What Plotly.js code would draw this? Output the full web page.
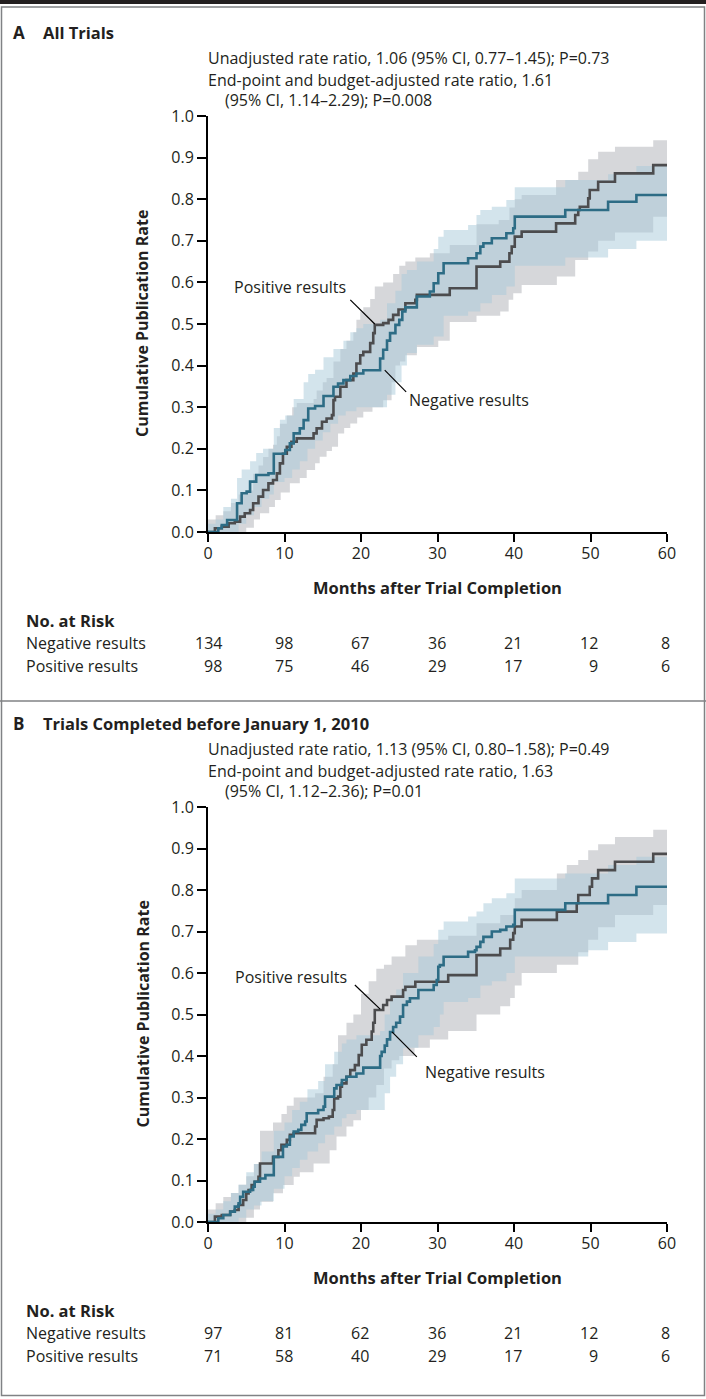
<!DOCTYPE html>
<html><head><meta charset="utf-8">
<script src="https://cdn.plot.ly/plotly-3.0.1.min.js"></script>
<style>html,body{margin:0;padding:0;background:#fff}#chart{width:706px;height:1399px}</style>
</head><body><div id="chart"></div>
<script>
// ---------- data ----------
const monthTicks = [0, 10, 20, 30, 40, 50, 60];
const rateTicks = [0, 0.1, 0.2, 0.3, 0.4, 0.5, 0.6, 0.7, 0.8, 0.9, 1.0];
const rateTickText = ['0.0','0.1','0.2','0.3','0.4','0.5','0.6','0.7','0.8','0.9','1.0'];

// Panel A: All Trials
const negA_t = [0,1.35,1.8,2.5,3.8,4.4,5.05,5.5,6.3,7.9,8.6,10.1,10.7,11.2,12.0,12.5,13.1,14.0,15.1,16.4,17.0,17.7,18.6,19.4,20.3,22.5,22.9,23.4,23.8,24.5,25.0,25.4,25.8,27.3,29.0,29.5,30.1,30.8,34.0,35.1,35.6,36.0,37.1,39.0,39.9,40.1,46.7,52.3,56.0,60];
const negA_v = [0,0.009,0.017,0.029,0.069,0.093,0.097,0.121,0.137,0.141,0.188,0.197,0.213,0.237,0.249,0.269,0.297,0.303,0.327,0.349,0.357,0.365,0.375,0.381,0.389,0.417,0.438,0.46,0.478,0.498,0.51,0.53,0.54,0.566,0.578,0.598,0.622,0.646,0.658,0.67,0.686,0.694,0.706,0.718,0.73,0.758,0.774,0.794,0.81,0.81];
const posA_t = [0,0.9,1.8,2.7,3.5,4.2,4.8,5.5,5.9,6.6,7.2,7.9,8.5,9.0,9.4,9.8,10.3,10.9,11.6,13.8,14.2,14.9,15.5,16.2,16.4,16.6,17.3,18.1,19.0,19.4,19.9,20.3,21.2,21.6,21.8,22.9,23.6,24.2,24.9,25.8,27.1,27.3,31.6,35.1,38.2,39.4,39.7,40.1,41.0,45.5,48.0,48.4,48.6,49.7,49.9,51.0,53.2,58.2,60];
const posA_v = [0,0.009,0.013,0.021,0.025,0.037,0.045,0.053,0.069,0.085,0.101,0.117,0.125,0.141,0.165,0.188,0.205,0.217,0.225,0.237,0.249,0.265,0.273,0.281,0.317,0.325,0.349,0.365,0.381,0.405,0.425,0.433,0.454,0.478,0.498,0.502,0.51,0.522,0.535,0.55,0.558,0.57,0.586,0.638,0.65,0.67,0.686,0.71,0.722,0.742,0.762,0.774,0.782,0.802,0.822,0.842,0.862,0.882,0.882];

const negA_upT = [0,1,2,3,3.8,4.4,5.5,6.3,7.2,8.6,9.4,10.1,11.2,12.5,13.1,14.0,15.1,16.4,17.7,18.6,19.4,20.3,22.5,23.4,24.5,25.3,26.0,27.3,29.5,30.1,30.8,34.0,35.1,35.6,37.1,39.0,40.1,46.7,52.3,56.0,60];
const negA_upV = [0.02,0.03,0.06,0.08,0.13,0.15,0.17,0.19,0.2,0.25,0.27,0.28,0.32,0.36,0.38,0.39,0.42,0.44,0.46,0.48,0.49,0.5,0.51,0.55,0.58,0.62,0.63,0.65,0.68,0.71,0.726,0.738,0.762,0.774,0.782,0.798,0.829,0.846,0.86,0.88,0.88];
const negA_loT = [0,3,4,5,6,7,8,8.6,10,11,12,13,14,15,16,17,18,19.4,22.5,23.4,24.5,25.3,26.0,27.3,29.5,30.8,34.0,35.6,37.1,39.0,40.1,46.7,52.3,56.0,60];
const negA_loV = [0,0,0.02,0.04,0.06,0.08,0.09,0.12,0.13,0.15,0.17,0.2,0.22,0.24,0.26,0.28,0.29,0.3,0.3,0.33,0.36,0.4,0.43,0.45,0.47,0.52,0.53,0.55,0.57,0.59,0.64,0.66,0.68,0.7,0.7];
const posA_upT = [0,1,2,3,4,5,5.9,6.6,7.2,7.9,8.5,9.0,9.4,10.3,11.0,11.6,13.8,14.2,15.0,15.5,16.4,17.3,18.1,19.0,19.4,19.9,20.3,21.2,21.8,22.9,24.2,25.0,25.8,27.1,29.0,31.6,35.1,38.0,39.4,40.1,41.0,45.5,48.4,49.7,51.0,53.2,58.2,60];
const posA_upV = [0.03,0.04,0.05,0.07,0.09,0.1,0.14,0.16,0.18,0.2,0.21,0.23,0.26,0.28,0.3,0.31,0.32,0.34,0.36,0.37,0.41,0.44,0.46,0.48,0.51,0.53,0.54,0.56,0.59,0.6,0.62,0.64,0.65,0.66,0.67,0.69,0.74,0.75,0.78,0.8,0.81,0.846,0.866,0.896,0.914,0.926,0.942,0.942];
const posA_loT = [0,4,5,6,6.8,8,8.75,9.5,10.7,12,12.9,14,14.6,15.5,16.2,17,17.8,18.6,19.5,20.3,21.5,22.9,24,24.5,25.1,25.8,27.3,30.1,31.6,35.1,38.2,39.3,39.9,41,45.6,48,49.7,51,53.2,58.2,60];
const posA_loV = [0,0,0.01,0.03,0.045,0.06,0.077,0.095,0.117,0.13,0.149,0.165,0.181,0.195,0.205,0.237,0.25,0.261,0.275,0.289,0.3,0.317,0.36,0.4,0.41,0.425,0.445,0.46,0.505,0.52,0.53,0.558,0.574,0.594,0.614,0.654,0.674,0.7,0.72,0.758,0.758];

// Panel B: Trials completed before January 1, 2010
const negB_t = [0,1.35,2.0,2.9,3.5,4.0,4.2,4.6,5.5,5.9,6.1,6.8,7.5,8.6,9.8,10.3,10.7,11.2,11.8,12.2,12.7,12.9,14.4,15.1,15.3,16.5,16.8,17.5,18.1,19.4,20.3,22.5,22.7,23.1,23.4,23.8,24.2,24.6,25.1,25.5,26.0,26.4,27.5,29.5,29.9,30.1,30.3,30.8,34.0,34.9,35.1,35.6,36.0,37.1,38.2,39.0,39.9,40.1,46.7,52.3,56.0,60];
const negB_v = [0,0.009,0.017,0.025,0.037,0.045,0.061,0.073,0.077,0.085,0.097,0.105,0.113,0.157,0.182,0.186,0.206,0.218,0.222,0.234,0.242,0.262,0.27,0.278,0.302,0.322,0.33,0.342,0.35,0.358,0.372,0.40,0.41,0.425,0.44,0.458,0.47,0.48,0.495,0.523,0.531,0.539,0.559,0.571,0.583,0.615,0.619,0.639,0.651,0.655,0.663,0.675,0.687,0.70,0.704,0.712,0.716,0.752,0.768,0.788,0.808,0.808];
const posB_t = [0,0.9,1.8,2.9,3.5,4.0,4.6,5.0,5.3,5.7,6.1,6.6,6.8,8.5,9.2,9.6,10.3,10.7,11.2,14.0,14.2,15.1,15.8,16.3,16.5,17.0,17.3,17.5,18.1,18.6,19.2,19.7,20.1,20.7,21.4,21.6,21.8,22.9,23.4,24.0,25.5,25.8,27.1,31.4,35.1,38.2,39.5,39.9,40.1,41.0,45.6,48.2,48.4,49.9,50.2,51.0,53.2,58.2,60];
const posB_v = [0,0.013,0.017,0.025,0.029,0.041,0.053,0.069,0.077,0.089,0.097,0.109,0.141,0.157,0.173,0.186,0.198,0.21,0.214,0.23,0.246,0.25,0.254,0.27,0.298,0.302,0.326,0.334,0.35,0.366,0.378,0.402,0.427,0.439,0.459,0.48,0.511,0.523,0.535,0.543,0.559,0.567,0.579,0.595,0.643,0.659,0.68,0.696,0.712,0.728,0.748,0.768,0.788,0.808,0.828,0.848,0.868,0.887,0.887];

const negB_upT = [0,1,2,3,4,5,6,7,8.6,10,11,12,13,14.4,15.3,16.5,17.5,18.1,19.4,22.5,23.1,23.8,24.6,25.5,27.5,29.5,30.1,30.8,34.0,35.1,36.0,37.1,39.0,40.1,46.7,52.3,56.0,60];
const negB_upV = [0.02,0.03,0.05,0.07,0.09,0.12,0.14,0.17,0.22,0.24,0.27,0.29,0.32,0.34,0.38,0.41,0.43,0.44,0.45,0.46,0.5,0.54,0.56,0.6,0.64,0.67,0.704,0.724,0.736,0.748,0.768,0.78,0.792,0.828,0.84,0.86,0.88,0.88];
const negB_loT = [0,3,4,5,6,7,8.6,10,11,12,13,14.4,15.3,16.5,17.5,18.1,19.4,22.5,23.1,23.8,24.6,25.5,27.5,29.5,30.3,30.8,34.0,35.6,37.1,39.0,40.1,46.7,49.7,52.3,56.0,60];
const negB_loV = [0,0,0.01,0.03,0.04,0.05,0.08,0.11,0.13,0.15,0.17,0.19,0.21,0.23,0.25,0.26,0.27,0.27,0.31,0.35,0.38,0.42,0.45,0.47,0.5,0.53,0.54,0.57,0.58,0.6,0.64,0.64,0.655,0.675,0.695,0.695];
const posB_upT = [0,1,2,3,4,5,6,6.8,8.5,9.6,10.3,11.2,14.0,15.1,16.3,17.0,18.1,19.0,20.0,21.0,22.0,23.0,24.0,25.8,27.3,31.4,35.1,38.2,40.1,41.0,45.6,46.9,48.4,49.7,51.0,53.2,58.2,60];
const posB_upV = [0.03,0.045,0.06,0.07,0.09,0.11,0.14,0.22,0.24,0.26,0.28,0.3,0.31,0.35,0.38,0.45,0.48,0.5,0.55,0.58,0.61,0.62,0.64,0.667,0.68,0.69,0.72,0.74,0.78,0.8,0.84,0.86,0.872,0.896,0.91,0.928,0.945,0.945];
const posB_loT = [0,4.5,5,6,6.8,8.5,9.8,11.2,12,13.8,15.9,16.8,18.1,19,20,21,22,23,24,25,27,29,31.4,35.1,38.2,39.5,40.1,41,45.6,48.4,49.7,51,53.2,58.2,60];
const posB_loV = [0,0,0.01,0.03,0.049,0.069,0.089,0.109,0.12,0.141,0.173,0.206,0.23,0.245,0.27,0.3,0.33,0.37,0.39,0.4,0.42,0.44,0.46,0.5,0.52,0.54,0.57,0.6,0.62,0.65,0.68,0.71,0.74,0.764,0.764];

// No. at risk
const riskA_neg = [134, 98, 67, 36, 21, 12, 8];
const riskA_pos = [98, 75, 46, 29, 17, 9, 6];
const riskB_neg = [97, 81, 62, 36, 21, 12, 8];
const riskB_pos = [71, 58, 40, 29, 17, 9, 6];

// ---------- styling ----------
const W = 706, H = 1399;
const FONT = '"Open Sans", "Noto Sans", Lato, sans-serif';
const TXT = '#231f20';
const NEG_LINE = '#2d6c85', POS_LINE = '#4c4c4e';
const POS_FILL = 'rgb(214,215,218)', NEG_FILL = 'rgba(168,201,218,0.5)';
const FS = 16, FS_B = 16.5;
const px = v => v / W;
const py = v => 1 - v / H;

function stairs(t, v) {
  const x = [], y = [];
  for (let i = 0; i < t.length; i++) {
    if (i > 0) { x.push(t[i]); y.push(v[i - 1]); }
    x.push(t[i]); y.push(v[i]);
  }
  return {x, y};
}
function band(upT, upV, loT, loV, xa, ya, color) {
  const u = stairs(upT, upV), l = stairs(loT, loV);
  return {type: 'scatter', mode: 'lines', x: u.x.concat(l.x.slice().reverse()),
    y: u.y.concat(l.y.slice().reverse()), fill: 'toself', fillcolor: color,
    line: {width: 0, color: color}, xaxis: xa, yaxis: ya, hoverinfo: 'skip', showlegend: false};
}
function km(t, v, xa, ya, color) {
  return {type: 'scatter', mode: 'lines', x: t, y: v, line: {shape: 'hv', color: color, width: 2.6},
    xaxis: xa, yaxis: ya, hoverinfo: 'skip', showlegend: false};
}

const traces = [
  band(posA_upT, posA_upV, posA_loT, posA_loV, 'x', 'y', POS_FILL),
  band(negA_upT, negA_upV, negA_loT, negA_loV, 'x', 'y', NEG_FILL),
  km(posA_t, posA_v, 'x', 'y', POS_LINE),
  km(negA_t, negA_v, 'x', 'y', NEG_LINE),
  band(posB_upT, posB_upV, posB_loT, posB_loV, 'x2', 'y2', POS_FILL),
  band(negB_upT, negB_upV, negB_loT, negB_loV, 'x2', 'y2', NEG_FILL),
  km(posB_t, posB_v, 'x2', 'y2', POS_LINE),
  km(negB_t, negB_v, 'x2', 'y2', NEG_LINE)
];

const XDOM = [px(208), px(667)];
function xAxis(anchor) {
  return {domain: XDOM, range: [0, 60], anchor: anchor, tickvals: monthTicks, ticks: 'outside',
    ticklen: 8, tickwidth: 2, tickcolor: '#000', showline: true, linewidth: 2, linecolor: '#000',
    ticklabelstandoff: -2,
    showgrid: false, zeroline: false, fixedrange: true, tickfont: {family: FONT, size: FS, color: TXT}};
}
function yAxis(anchor, top, bottom) {
  return {domain: [py(bottom), py(top)], range: [0, 1], anchor: anchor, tickvals: rateTicks,
    ticktext: rateTickText, ticks: 'outside', ticklen: 9, tickwidth: 2, tickcolor: '#000',
    showline: true, linewidth: 2, linecolor: '#000', showgrid: false, zeroline: false,
    fixedrange: true, tickfont: {family: FONT, size: FS, color: TXT}};
}

const annotations = [];
function txt(x, y, text, opts) {
  annotations.push(Object.assign({xref: 'paper', yref: 'paper', x: px(x), y: py(y), text: text,
    showarrow: false, xanchor: 'left', yanchor: 'middle', font: {family: FONT, size: FS, color: TXT}}, opts || {}));
}
const colShift = [16, 10, 10, 10, 10, 9, 5];
function panelText(letter, title, stats, axisTop, axisBottom, xref, riskNeg, riskPos, posLab, negLab) {
  const hdr = axisTop - 84;
  txt(11, hdr, '<b>' + letter + '</b>', {font: {family: FONT, size: 17, color: TXT}});
  txt(41, hdr, '<b>' + title + '</b>', {font: {family: FONT, size: FS_B, color: TXT}});
  txt(206, hdr + 26, stats[0]);
  txt(206, hdr + 48, stats[1]);
  txt(223, hdr + 68, stats[2]);
  txt(142, (axisTop + axisBottom) / 2, '<b>Cumulative Publication Rate</b>',
    {xanchor: 'center', textangle: -90, font: {family: FONT, size: 16, color: TXT}});
  txt(437.5, axisBottom + 55, '<b>Months after Trial Completion</b>', {xanchor: 'center', font: {family: FONT, size: FS_B, color: TXT}});
  txt(24, axisBottom + 88, '<b>No. at Risk</b>', {font: {family: FONT, size: FS_B, color: TXT}});
  txt(24, axisBottom + 111, 'Negative results');
  txt(24, axisBottom + 134, 'Positive results');
  for (let i = 0; i < monthTicks.length; i++) {
    annotations.push({xref: xref, yref: 'paper', x: monthTicks[i], y: py(axisBottom + 111), text: String(riskNeg[i]),
      showarrow: false, xanchor: 'right', yanchor: 'middle', xshift: colShift[i], font: {family: FONT, size: FS, color: TXT}});
    annotations.push({xref: xref, yref: 'paper', x: monthTicks[i], y: py(axisBottom + 134), text: String(riskPos[i]),
      showarrow: false, xanchor: 'right', yanchor: 'middle', xshift: colShift[i], font: {family: FONT, size: FS, color: TXT}});
  }
  txt(posLab[0], posLab[1], 'Positive results', {xanchor: 'center'});
  txt(negLab[0], negLab[1], 'Negative results', {xanchor: 'center'});
}

panelText('A', 'All Trials',
  ['Unadjusted rate ratio, 1.06 (95% CI, 0.77\u20131.45); P=0.73',
   'End-point and budget-adjusted rate ratio, 1.61',
   '(95% CI, 1.14\u20132.29); P=0.008'],
  116, 532, 'x', riskA_neg, riskA_pos, [289.5, 287], [468.5, 400]);
panelText('B', 'Trials Completed before January 1, 2010',
  ['Unadjusted rate ratio, 1.13 (95% CI, 0.80\u20131.58); P=0.49',
   'End-point and budget-adjusted rate ratio, 1.63',
   '(95% CI, 1.12\u20132.36); P=0.01'],
  807, 1222, 'x2', riskB_neg, riskB_pos, [291, 977], [485, 1072]);

const shapes = [
  {type: 'rect', xref: 'paper', yref: 'paper', x0: 0, x1: 1, y0: py(4), y1: 1, fillcolor: '#231f20', line: {width: 0}},
  {type: 'rect', xref: 'paper', yref: 'paper', x0: px(1.5), x1: px(704.5), y0: py(1395.5), y1: py(7),
    line: {color: '#808285', width: 1.5}},
  {type: 'line', xref: 'paper', yref: 'paper', x0: 0, x1: 1, y0: py(701), y1: py(701), line: {color: '#808285', width: 1.5}},
  // label pointers
  {type: 'line', xref: 'x', yref: 'y', x0: 18.6, y0: 0.558, x1: 21.8, y1: 0.50, line: {color: '#000', width: 1.2}},
  {type: 'line', xref: 'x', yref: 'y', x0: 23.1, y0: 0.389, x1: 25.9, y1: 0.337, line: {color: '#000', width: 1.2}},
  {type: 'line', xref: 'x2', yref: 'y2', x0: 19.2, y0: 0.571, x1: 22.5, y1: 0.513, line: {color: '#000', width: 1.2}},
  {type: 'line', xref: 'x2', yref: 'y2', x0: 24.05, y0: 0.458, x1: 27.3, y1: 0.398, line: {color: '#000', width: 1.2}}
];

const layout = {
  width: W, height: H, margin: {l: 0, r: 0, t: 0, b: 0}, paper_bgcolor: '#fff', plot_bgcolor: 'rgba(0,0,0,0)',
  showlegend: false, font: {family: FONT, color: TXT},
  xaxis: xAxis('y'), yaxis: yAxis('x', 116, 532),
  xaxis2: xAxis('y2'), yaxis2: yAxis('x2', 807, 1222),
  annotations: annotations, shapes: shapes
};
Plotly.newPlot('chart', traces, layout, {displayModeBar: false, staticPlot: true});
</script></body></html>
